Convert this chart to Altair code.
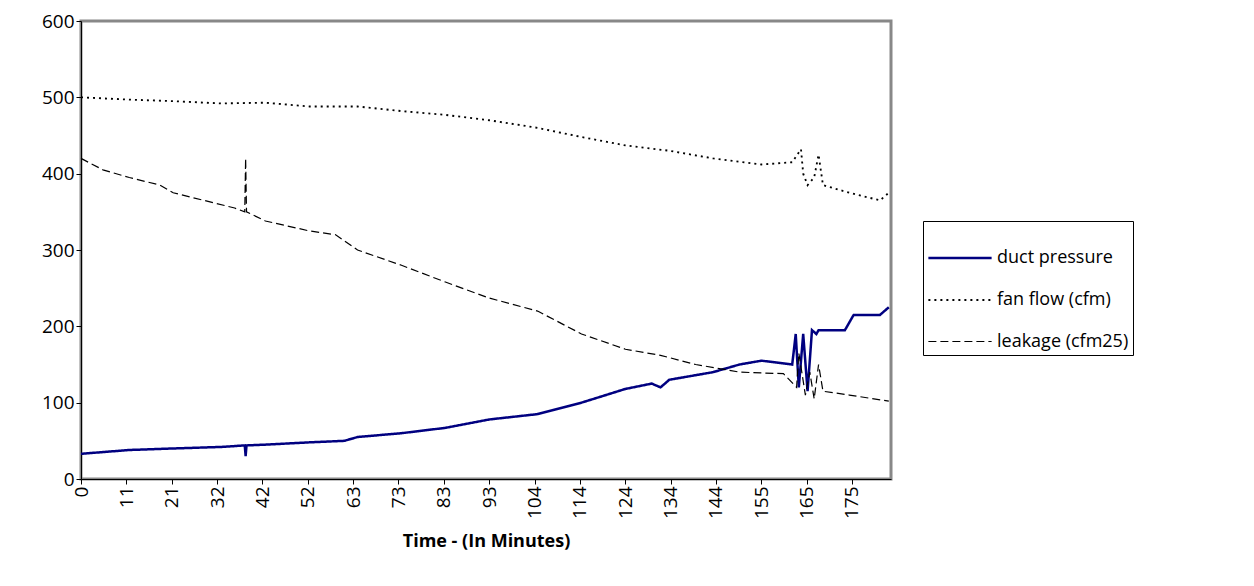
import altair as alt
import pandas as pd

duct_t = [0, 11, 21, 32, 37.3, 37.5, 37.7, 42, 52, 60, 63, 73, 83, 93, 104, 114, 124, 130, 132, 134, 144, 150,
          155, 162, 162.8, 163.5, 164.5, 165.5, 166.5, 167.5, 168, 174, 176, 182, 184]
duct_v = [33, 38, 40, 42, 44, 30, 44, 45, 48, 50, 55, 60, 67, 78, 85, 100, 118, 125, 120, 130, 140, 150,
          155, 150, 190, 120, 190, 115, 195, 190, 195, 195, 215, 215, 225]

fan_t = [0, 11, 21, 32, 42, 52, 63, 73, 83, 93, 104, 114, 124, 134, 144, 155, 162, 164, 164.5, 165.5, 167,
         168, 169, 175, 182, 184]
fan_v = [500, 497, 495, 492, 493, 488, 488, 482, 477, 470, 460, 448, 437, 430, 420, 412, 415, 432, 400, 385,
         395, 425, 385, 375, 365, 375]

leak_t = [0, 5, 11, 18, 21, 28, 35, 37.3, 37.5, 37.7, 42, 52, 58, 63, 73, 83, 93, 104, 114, 124, 132, 140,
          150, 160, 163, 163.5, 165, 166, 167, 168, 169, 175, 184]
leak_v = [420, 405, 395, 385, 375, 365, 355, 350, 420, 350, 338, 325, 320, 300, 280, 258, 237, 220, 190, 170,
          162, 150, 140, 138, 120, 165, 110, 140, 105, 150, 115, 110, 102]

tick_labels = ["0", "11", "21", "32", "42", "52", "63", "73", "83", "93", "104", "114", "124", "134", "144",
               "155", "165", "175"]
tick_step = 10.33

series = ["duct pressure", "fan flow (cfm)", "leakage (cfm25)"]
rows = []
for name, ts, vs in zip(series, [duct_t, fan_t, leak_t], [duct_v, fan_v, leak_v]):
    for i, (t, v) in enumerate(zip(ts, vs)):
        rows.append({"series": name, "t": t, "v": v, "i": i})
df = pd.DataFrame(rows)

label_expr = "[" + ",".join(f"'{s}'" for s in tick_labels) + "][round(datum.value / %s)]" % tick_step

chart = (
    alt.Chart(df)
    .mark_line()
    .encode(
        x=alt.X("t:Q", title="Time - (In Minutes)")
        .scale(domain=[0, 184.5], nice=False, zero=False)
        .axis(values=[i * tick_step for i in range(len(tick_labels))], labelExpr=label_expr,
              labelAngle=-90, labelAlign="right", labelBaseline="middle", grid=False,
              titleFontWeight="bold", titlePadding=14),
        y=alt.Y("v:Q", title=None).scale(domain=[0, 600]).axis(values=list(range(0, 601, 100)), grid=False),
        order="i:Q",
        color=alt.Color("series:N", title=None).scale(domain=series, range=["#000080", "black", "black"]),
        strokeDash=alt.StrokeDash("series:N", title=None).scale(domain=series, range=[[1, 0], [2, 4], [8, 4]]),
        strokeWidth=alt.StrokeWidth("series:N", title=None).scale(domain=series, range=[2.5, 1.2, 1.2]),
    )
    .properties(width=810, height=458, padding={"left": 33, "top": 4, "right": 5, "bottom": 5})
    .configure_view(stroke="#888888", strokeWidth=3)
    .configure_axis(labelFontSize=19, titleFontSize=18, labelFont="Open Sans", titleFont="Open Sans",
                    domainColor="black", tickColor="black", labelColor="black")
    .configure_legend(labelFontSize=18, labelFont="Open Sans", strokeColor="black", padding=4,
                      symbolType="stroke", symbolSize=4000, orient="none", legendX=842, legendY=200,
                      labelColor="black", rowPadding=0, symbolStrokeWidth=1.5, labelOffset=4)
)

chart.save("out.html", embed_options={"renderer": "svg", "actions": False})
